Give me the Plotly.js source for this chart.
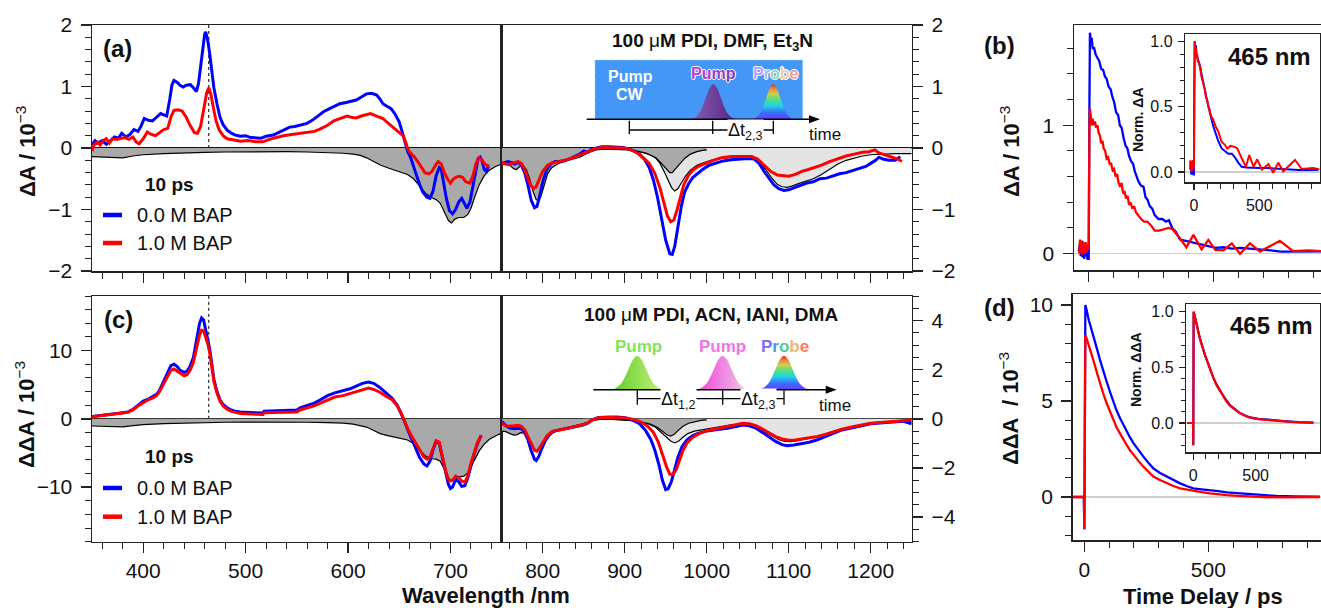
<!DOCTYPE html>
<html><head><meta charset="utf-8">
<script src="https://cdn.plot.ly/plotly-3.0.1.min.js"></script>
<style>html,body{margin:0;padding:0;background:#fff;}#chart{width:1321px;height:608px;}</style>
</head><body><div id="chart"></div>
<script>
// ---------------- DATA ----------------
// Panel (a), 350-750 nm, ΔA / 1e-3
const aLeftBlue = [[350,0.05],[353,0.12],[356,0.08],[360,0.12],[364,0.06],[368,0.12],[372,0.18],[376,0.16],[379,0.24],[383,0.18],[387,0.22],[391,0.3],[395,0.27],[398,0.36],[401,0.48],[405,0.45],[409,0.44],[413,0.5],[417,0.56],[420,0.54],[423,0.52],[426,0.8],[428,1.02],[430,1.1],[433,1.07],[436,1.02],[439,0.99],[442,1.02],[446,1.03],[449,0.98],[452,0.92],[454,1.05],[456,1.35],[458,1.6],[460,1.85],[461,1.89],[463,1.75],[465,1.52],[467,1.25],[469,0.98],[472,0.72],[475,0.5],[478,0.38],[482,0.29],[486,0.24],[490,0.21],[495,0.19],[500,0.2],[505,0.17],[510,0.17],[515,0.16],[520,0.19],[527,0.21],[532,0.25],[538,0.3],[543,0.34],[548,0.35],[553,0.37],[560,0.4],[565,0.45],[570,0.52],[576,0.59],[582,0.64],[587,0.68],[592,0.72],[598,0.74],[603,0.76],[608,0.78],[613,0.83],[618,0.88],[623,0.89],[628,0.86],[631,0.8],[634,0.72],[638,0.68],[642,0.64],[646,0.55],[650,0.42],[653,0.25],[656,0.05],[658,-0.05],[661,-0.15],[664,-0.3],[667,-0.48],[670,-0.6],[673,-0.72],[677,-0.8],[680,-0.82],[683,-0.7],[686,-0.45],[689,-0.32],[691,-0.35],[693,-0.55],[696,-0.82],[699,-1.02],[702,-1.07],[705,-1.0],[708,-0.88],[711,-0.82],[713,-0.88],[716,-0.98],[719,-0.88],[722,-0.6],[725,-0.35],[727,-0.17],[729,-0.15],[731,-0.22],[733,-0.35],[735,-0.38],[737,-0.3]];
const aLeftRed = [[350,-0.05],[352,0.05],[355,0.1],[358,0.05],[361,0.12],[364,0.15],[367,0.08],[370,0.15],[374,0.14],[378,0.15],[382,0.17],[386,0.14],[390,0.18],[393,0.1],[396,0.07],[400,0.15],[404,0.26],[408,0.22],[412,0.2],[416,0.25],[420,0.3],[424,0.32],[427,0.5],[430,0.61],[434,0.62],[438,0.6],[442,0.5],[446,0.36],[450,0.25],[453,0.24],[456,0.35],[459,0.62],[462,0.9],[464,0.98],[466,0.88],[468,0.7],[471,0.45],[474,0.3],[478,0.2],[482,0.15],[488,0.13],[495,0.11],[502,0.12],[510,0.1],[517,0.1],[523,0.14],[530,0.17],[537,0.2],[545,0.22],[553,0.24],[560,0.25],[567,0.27],[573,0.31],[580,0.37],[586,0.44],[592,0.48],[599,0.52],[603,0.5],[608,0.49],[613,0.52],[618,0.54],[622,0.56],[626,0.53],[630,0.51],[634,0.48],[638,0.42],[642,0.36],[646,0.3],[650,0.25],[654,0.2],[657,0.05],[659,-0.04],[662,-0.1],[665,-0.15],[668,-0.22],[671,-0.3],[675,-0.4],[679,-0.42],[682,-0.38],[686,-0.26],[688,-0.22],[691,-0.26],[694,-0.4],[697,-0.5],[700,-0.57],[703,-0.5],[706,-0.47],[709,-0.46],[712,-0.48],[715,-0.55],[719,-0.57],[722,-0.45],[725,-0.25],[728,-0.16],[731,-0.2],[734,-0.27],[738,-0.3]];
const aLeftGround = [[350,-0.14],[360,-0.15],[370,-0.155],[380,-0.16],[390,-0.13],[400,-0.11],[420,-0.09],[440,-0.075],[460,-0.07],[480,-0.065],[500,-0.06],[520,-0.06],[540,-0.06],[560,-0.065],[580,-0.075],[595,-0.085],[605,-0.1],[612,-0.12],[618,-0.16],[625,-0.22],[632,-0.28],[640,-0.33],[650,-0.39],[658,-0.43],[664,-0.5],[670,-0.62],[676,-0.74],[681,-0.8],[686,-0.84],[690,-0.9],[694,-1.05],[698,-1.18],[701,-1.22],[704,-1.16],[708,-1.13],[713,-1.13],[717,-1.08],[720,-0.98],[724,-0.78],[728,-0.6],[733,-0.45],[738,-0.36],[744,-0.3],[750,-0.26]];
// Panel (a), 750-1250 nm
const aRightBlue = [[750,-0.25],[754,-0.24],[758,-0.22],[762,-0.24],[766,-0.26],[770,-0.23],[774,-0.28],[778,-0.4],[782,-0.6],[786,-0.85],[790,-0.97],[793,-0.95],[796,-0.8],[800,-0.55],[805,-0.35],[810,-0.26],[815,-0.22],[820,-0.22],[826,-0.21],[832,-0.18],[838,-0.14],[845,-0.1],[850,-0.05],[855,-0.07],[860,-0.02],[865,0.0],[872,0.02],[880,0.02],[890,0.02],[898,0.01],[905,-0.02],[912,-0.05],[918,-0.1],[924,-0.18],[930,-0.32],[935,-0.52],[940,-0.8],[945,-1.15],[950,-1.5],[955,-1.72],[958,-1.73],[961,-1.6],[965,-1.3],[969,-0.95],[973,-0.72],[978,-0.58],[983,-0.48],[988,-0.42],[995,-0.35],[1003,-0.28],[1012,-0.24],[1020,-0.21],[1030,-0.19],[1040,-0.18],[1050,-0.17],[1058,-0.18],[1064,-0.25],[1070,-0.38],[1076,-0.5],[1082,-0.6],[1088,-0.66],[1094,-0.69],[1100,-0.68],[1108,-0.64],[1115,-0.6],[1122,-0.57],[1130,-0.55],[1138,-0.5],[1146,-0.49],[1154,-0.45],[1162,-0.42],[1170,-0.4],[1178,-0.37],[1186,-0.34],[1194,-0.3],[1200,-0.25],[1206,-0.2],[1210,-0.15],[1215,-0.18],[1222,-0.2],[1230,-0.2],[1236,-0.14]];
const aRightRed = [[750,-0.24],[754,-0.26],[758,-0.27],[762,-0.25],[766,-0.24],[770,-0.22],[774,-0.25],[778,-0.35],[782,-0.5],[786,-0.62],[789,-0.66],[792,-0.63],[796,-0.5],[800,-0.38],[806,-0.28],[812,-0.24],[820,-0.22],[830,-0.19],[840,-0.14],[848,-0.1],[856,-0.05],[864,-0.01],[872,0.01],[882,0.01],[892,0.01],[900,0.0],[908,-0.03],[915,-0.08],[922,-0.15],[930,-0.25],[937,-0.42],[943,-0.65],[948,-0.9],[952,-1.1],[956,-1.2],[960,-1.17],[964,-1.0],[968,-0.8],[972,-0.6],[978,-0.44],[984,-0.35],[990,-0.3],[998,-0.25],[1008,-0.2],[1018,-0.16],[1030,-0.14],[1042,-0.14],[1055,-0.14],[1062,-0.18],[1070,-0.28],[1078,-0.38],[1086,-0.44],[1094,-0.45],[1100,-0.46],[1108,-0.43],[1116,-0.38],[1124,-0.35],[1132,-0.32],[1140,-0.28],[1150,-0.22],[1160,-0.17],[1170,-0.13],[1180,-0.1],[1190,-0.07],[1198,-0.06],[1205,-0.03],[1210,-0.08],[1218,-0.12],[1226,-0.15],[1233,-0.18],[1238,-0.22]];
const aRightGroundA = [[750,-0.26],[755,-0.25],[760,-0.28],[765,-0.34],[768,-0.35],[772,-0.3],[776,-0.28],[780,-0.35],[784,-0.5],[788,-0.7],[792,-0.84],[795,-0.86],[798,-0.78],[802,-0.6],[806,-0.42],[811,-0.32],[818,-0.26],[826,-0.22],[835,-0.19],[845,-0.15],[855,-0.08],[865,-0.03],[875,-0.02],[890,-0.02],[905,-0.03],[915,-0.05],[925,-0.08],[932,-0.12],[938,-0.16],[944,-0.24],[950,-0.33],[955,-0.4],[958,-0.4],[962,-0.34],[967,-0.25],[973,-0.17],[980,-0.1],[988,-0.06],[995,-0.04],[1000,-0.03]];
const aRightGroundB = [[850,-0.02],[860,-0.02],[870,-0.01],[885,-0.01],[900,-0.02],[912,-0.04],[922,-0.07],[930,-0.1],[937,-0.15],[943,-0.25],[948,-0.38],[953,-0.52],[957,-0.64],[961,-0.7],[965,-0.66],[969,-0.57],[974,-0.46],[980,-0.36],[988,-0.28],[996,-0.24],[1005,-0.2],[1015,-0.17],[1030,-0.15],[1045,-0.14],[1056,-0.15],[1064,-0.22],[1072,-0.35],[1080,-0.5],[1086,-0.59],[1092,-0.63],[1098,-0.64],[1104,-0.62],[1112,-0.58],[1120,-0.54],[1130,-0.5],[1140,-0.43],[1150,-0.34],[1160,-0.26],[1170,-0.2],[1180,-0.16],[1190,-0.13],[1200,-0.11],[1215,-0.1],[1230,-0.09],[1250,-0.09]];
// Panel (c), 350-750 nm, ΔΔA / 1e-3 (left scale)
const cLeftBlue = [[350,0.35],[360,0.5],[370,0.7],[380,0.9],[385,1.0],[390,1.4],[395,2.0],[400,2.6],[405,2.9],[410,3.3],[413,3.6],[416,4.2],[420,5.5],[424,7.0],[427,7.8],[430,8.0],[433,7.7],[436,7.1],[440,6.8],[443,7.0],[446,7.8],[449,9.0],[452,11.5],[455,14.0],[457,14.8],[459,14.5],[461,13.0],[463,11.8],[465,10.2],[467,8.0],[469,5.8],[472,4.0],[475,2.8],[478,2.1],[482,1.6],[486,1.3],[490,1.1],[495,1.0],[505,0.9],[517,0.85],[518,1.1],[530,1.2],[550,1.3],[553,1.6],[560,1.9],[567,2.3],[573,2.8],[580,3.4],[587,3.8],[595,4.1],[602,4.4],[608,4.8],[614,5.2],[620,5.4],[625,5.2],[631,4.6],[637,3.8],[643,3.0],[648,2.0],[652,0.8],[655,-0.3],[658,-1.5],[662,-2.8],[666,-4.3],[670,-5.7],[674,-6.6],[677,-6.9],[680,-6.2],[683,-4.5],[686,-3.3],[689,-3.6],[692,-5.6],[695,-8.0],[698,-9.6],[700,-10.2],[702,-10.0],[705,-8.9],[708,-9.2],[711,-9.9],[714,-9.8],[717,-8.6],[720,-6.8],[723,-5.2],[726,-3.8],[730,-2.4]];
const cLeftRed = [[350,0.3],[360,0.45],[370,0.65],[380,0.85],[385,0.95],[390,1.3],[395,1.9],[400,2.4],[405,2.8],[410,3.1],[413,3.4],[416,4.0],[420,5.1],[424,6.4],[427,7.1],[430,7.3],[433,7.0],[436,6.6],[440,6.3],[443,6.5],[446,7.2],[449,8.3],[452,10.3],[455,12.3],[457,13.0],[459,12.9],[461,11.9],[463,11.0],[465,9.6],[467,7.6],[469,5.5],[472,3.8],[475,2.6],[478,1.9],[482,1.4],[486,1.1],[490,0.95],[495,0.8],[505,0.7],[517,0.65],[518,0.9],[530,0.95],[550,1.0],[553,1.3],[560,1.6],[567,1.9],[573,2.3],[580,2.8],[587,3.2],[595,3.4],[602,3.7],[608,4.0],[614,4.3],[620,4.5],[625,4.3],[631,3.9],[637,3.3],[643,2.8],[648,1.9],[652,0.8],[655,-0.3],[658,-1.4],[662,-2.5],[666,-3.6],[670,-4.7],[674,-5.6],[677,-5.9],[680,-5.6],[683,-4.3],[686,-3.2],[689,-3.4],[692,-5.3],[695,-7.5],[698,-8.9],[700,-9.1],[702,-9.0],[705,-8.4],[708,-8.6],[711,-9.1],[714,-9.3],[717,-8.3],[720,-6.5],[723,-4.9],[726,-3.6],[730,-2.4]];
const cLeftGround = [[350,-1.05],[360,-1.1],[370,-1.15],[380,-1.17],[390,-1.0],[400,-0.85],[420,-0.7],[440,-0.6],[460,-0.55],[480,-0.5],[500,-0.48],[520,-0.47],[540,-0.47],[560,-0.5],[580,-0.55],[595,-0.62],[605,-0.78],[612,-0.95],[618,-1.2],[625,-1.7],[632,-2.2],[640,-2.5],[650,-2.8],[658,-3.1],[664,-3.6],[670,-4.6],[676,-5.5],[681,-5.85],[686,-5.9],[690,-6.2],[694,-7.3],[698,-8.6],[701,-9.1],[704,-8.9],[708,-8.5],[713,-8.4],[717,-7.9],[720,-7.0],[724,-5.8],[728,-4.7],[733,-3.7],[738,-3.0],[744,-2.5],[750,-2.05]];
// Panel (c), 750-1250 nm (right scale)
const cRightBlue = [[750,-0.1],[753,-0.22],[756,-0.3],[760,-0.37],[765,-0.4],[770,-0.38],[774,-0.4],[778,-0.55],[782,-0.85],[786,-1.3],[790,-1.65],[792,-1.7],[795,-1.55],[799,-1.2],[803,-0.9],[808,-0.65],[813,-0.5],[820,-0.45],[830,-0.38],[840,-0.32],[848,-0.26],[855,-0.18],[860,-0.05],[868,0.06],[878,0.08],[890,0.08],[900,0.05],[910,-0.05],[918,-0.2],[925,-0.45],[932,-0.85],[937,-1.3],[942,-1.9],[946,-2.5],[950,-2.88],[953,-2.85],[957,-2.55],[961,-2.05],[965,-1.55],[970,-1.12],[976,-0.85],[983,-0.68],[991,-0.57],[1000,-0.5],[1012,-0.45],[1025,-0.38],[1037,-0.3],[1044,-0.25],[1052,-0.28],[1060,-0.38],[1068,-0.55],[1076,-0.75],[1084,-0.92],[1092,-1.05],[1098,-1.09],[1106,-1.06],[1115,-1.0],[1125,-0.95],[1135,-0.85],[1145,-0.73],[1155,-0.58],[1165,-0.45],[1178,-0.35],[1190,-0.25],[1200,-0.2],[1215,-0.16],[1230,-0.12],[1240,-0.1],[1250,-0.2]];
const cRightRed = [[750,-0.15],[753,-0.25],[756,-0.3],[760,-0.3],[765,-0.28],[770,-0.26],[774,-0.3],[778,-0.45],[782,-0.7],[786,-1.0],[790,-1.28],[793,-1.32],[796,-1.2],[800,-0.95],[805,-0.7],[810,-0.55],[816,-0.48],[825,-0.42],[835,-0.35],[845,-0.28],[853,-0.2],[860,-0.05],[868,0.05],[880,0.07],[892,0.07],[902,0.04],[912,-0.03],[920,-0.13],[928,-0.3],[935,-0.55],[941,-0.95],[946,-1.45],[951,-1.95],[955,-2.25],[959,-2.25],[963,-2.05],[967,-1.7],[971,-1.3],[976,-0.98],[983,-0.75],[991,-0.6],[1000,-0.48],[1012,-0.4],[1025,-0.3],[1037,-0.22],[1044,-0.18],[1052,-0.2],[1060,-0.28],[1068,-0.42],[1076,-0.58],[1084,-0.72],[1092,-0.82],[1100,-0.87],[1108,-0.86],[1116,-0.82],[1125,-0.78],[1135,-0.72],[1145,-0.63],[1155,-0.52],[1165,-0.42],[1178,-0.32],[1190,-0.24],[1200,-0.18],[1215,-0.14],[1230,-0.1],[1250,-0.05]];
const cRightGroundA = [[750,-0.5],[755,-0.52],[760,-0.6],[765,-0.66],[769,-0.64],[773,-0.56],[777,-0.58],[781,-0.75],[785,-0.98],[789,-1.2],[793,-1.3],[796,-1.25],[800,-1.05],[805,-0.8],[811,-0.6],[818,-0.48],[826,-0.4],[835,-0.33],[845,-0.25],[855,-0.15],[862,-0.05],[870,-0.02],[885,-0.02],[900,-0.03],[915,-0.08],[925,-0.15],[932,-0.22],[940,-0.35],[947,-0.52],[952,-0.66],[956,-0.7],[960,-0.64],[965,-0.48],[971,-0.3],[978,-0.18],[986,-0.1],[993,-0.06],[1000,-0.04]];
const cRightGroundB = [[850,-0.05],[860,-0.03],[870,-0.02],[885,-0.02],[900,-0.04],[912,-0.08],[922,-0.14],[930,-0.22],[938,-0.35],[945,-0.55],[951,-0.75],[956,-0.9],[961,-0.98],[966,-0.9],[971,-0.75],[977,-0.6],[985,-0.5],[995,-0.44],[1005,-0.38],[1018,-0.3],[1030,-0.24],[1042,-0.21],[1052,-0.24],[1062,-0.35],[1072,-0.55],[1080,-0.72],[1088,-0.85],[1095,-0.92],[1102,-0.93],[1110,-0.9],[1120,-0.84],[1130,-0.76],[1140,-0.66],[1150,-0.55],[1160,-0.45],[1172,-0.36],[1185,-0.27],[1200,-0.19],[1215,-0.14],[1230,-0.11],[1250,-0.1]];
// Panel (b) kinetics at 465 nm, ΔA / 1e-3 vs time / ps
const bBlue = [[-40,0.02],[-35,0.08],[-32,-0.02],[-28,0.1],[-25,-0.03],[-22,0.09],[-18,-0.04],[-15,0.05],[-12,-0.02],[-8,0.03],[-5,-0.04],[-2,-0.04],[0,-0.04],[3,1.2],[5,1.72],[8,1.66],[12,1.68],[16,1.6],[22,1.6],[28,1.55],[35,1.52],[42,1.5],[50,1.44],[58,1.43],[65,1.38],[72,1.36],[80,1.3],[88,1.28],[95,1.22],[102,1.18],[110,1.1],[118,1.08],[125,1.0],[132,0.98],[140,0.9],[148,0.84],[155,0.82],[162,0.76],[170,0.72],[178,0.7],[185,0.64],[192,0.6],[200,0.56],[210,0.53],[220,0.52],[228,0.44],[236,0.42],[245,0.37],[255,0.35],[265,0.3],[280,0.27],[295,0.27],[310,0.25],[322,0.26],[335,0.2],[350,0.17],[366,0.11],[390,0.1],[420,0.085],[450,0.07],[480,0.055],[510,0.045],[540,0.05],[575,0.04],[610,0.045],[650,0.04],[690,0.03],[730,0.025],[770,0.016],[820,0.015],[870,0.018],[932,0.018]];
const bRed = [[-38,0.0],[-35,0.11],[-32,0.03],[-30,0.09],[-27,-0.01],[-25,0.1],[-22,0.02],[-18,0.08],[-15,0.0],[-12,0.09],[-8,0.01],[-5,0.07],[-2,0.03],[0,0.05],[3,1.0],[5,1.13],[8,1.08],[12,1.0],[16,1.05],[20,1.0],[25,1.03],[30,0.98],[35,1.0],[40,0.94],[45,0.92],[50,0.86],[55,0.88],[60,0.82],[66,0.8],[72,0.74],[78,0.75],[84,0.7],[90,0.7],[96,0.65],[102,0.66],[108,0.6],[114,0.62],[120,0.55],[126,0.52],[132,0.55],[138,0.47],[144,0.48],[150,0.43],[156,0.45],[162,0.38],[168,0.4],[175,0.35],[182,0.37],[190,0.32],[198,0.3],[210,0.27],[222,0.25],[235,0.25],[250,0.22],[265,0.18],[283,0.18],[300,0.19],[320,0.2],[336,0.19],[366,0.12],[392,0.05],[420,0.146],[453,0.034],[480,0.107],[508,0.03],[541,0.026],[574,0.081],[607,0.0],[647,0.08],[687,0.016],[767,0.1],[820,0.02],[880,0.025],[932,0.02]];
// Panel (b) inset, normalized
const bInsetBlue = [[-30,0.02],[-25,0.05],[-20,-0.02],[-15,0.04],[-10,-0.02],[-5,0.03],[-2,-0.02],[0,-0.02],[3,0.6],[6,1.0],[10,0.95],[15,0.97],[20,0.9],[30,0.86],[40,0.83],[50,0.8],[60,0.74],[70,0.7],[80,0.64],[90,0.6],[100,0.55],[110,0.5],[125,0.44],[148,0.35],[165,0.3],[185,0.24],[212,0.18],[240,0.16],[263,0.14],[290,0.14],[315,0.11],[340,0.07],[365,0.04],[400,0.035],[450,0.03],[500,0.03],[560,0.03],[620,0.025],[680,0.025],[740,0.018],[800,0.015],[860,0.015],[950,0.015]];
const bInsetRed = [[-30,0.05],[-27,0.09],[-24,0.02],[-21,0.08],[-18,0.0],[-15,0.07],[-12,0.03],[-9,0.09],[-6,0.02],[-3,0.06],[0,0.03],[3,0.6],[6,1.0],[10,0.92],[15,0.95],[20,0.88],[25,0.9],[30,0.84],[37,0.85],[45,0.79],[52,0.78],[60,0.72],[68,0.69],[75,0.66],[84,0.63],[92,0.57],[102,0.55],[110,0.5],[120,0.48],[130,0.43],[148,0.4],[165,0.35],[186,0.31],[212,0.23],[235,0.21],[255,0.18],[280,0.2],[314,0.19],[332,0.18],[365,0.105],[398,0.04],[423,0.13],[456,0.04],[484,0.097],[520,0.018],[569,0.061],[607,-0.005],[645,0.071],[683,0.005],[773,0.092],[824,0.023],[913,0.03],[960,0.02]];
// Panel (d) kinetics, ΔΔA / 1e-3
const dBlue = [[-45,0.0],[-20,0.0],[-2,0.0],[0,-1.68],[2,5.0],[4,10.0],[8,9.8],[12,9.5],[18,9.2],[25,8.9],[36,8.44],[50,7.75],[63,7.14],[76,6.55],[90,6.0],[104,5.45],[117,4.97],[130,4.5],[144,4.1],[157,3.75],[171,3.4],[184,3.1],[198,2.8],[218,2.42],[238,2.1],[258,1.78],[278,1.49],[305,1.25],[332,1.06],[359,0.88],[386,0.71],[412,0.57],[439,0.45],[473,0.4],[507,0.36],[540,0.3],[574,0.24],[620,0.2],[668,0.16],[700,0.1],[720,0.08],[775,0.05],[850,0.03],[950,0.02]];
const dRed = [[-45,0.0],[-20,0.0],[-2,0.0],[0,-1.68],[2,4.0],[4,8.44],[8,8.3],[16,8.0],[25,7.6],[36,7.14],[50,6.5],[63,5.92],[76,5.4],[90,4.88],[104,4.42],[117,4.0],[130,3.62],[144,3.3],[157,2.98],[171,2.7],[184,2.43],[198,2.19],[218,1.88],[238,1.58],[258,1.3],[278,1.06],[305,0.88],[332,0.71],[359,0.57],[386,0.45],[412,0.38],[439,0.33],[473,0.25],[507,0.19],[540,0.14],[574,0.1],[620,0.06],[668,0.02],[720,0.0],[775,-0.02],[850,-0.02],[950,-0.01]];
// Panel (d) inset, normalized
const dInsetBlue = [[-50,0.0],[-2,0.0],[0,-0.2],[3,1.0],[10,0.97],[27,0.88],[53,0.76],[94,0.61],[134,0.48],[160,0.41],[187,0.345],[214,0.29],[241,0.245],[268,0.2],[294,0.16],[334,0.125],[374,0.09],[415,0.068],[455,0.05],[520,0.038],[588,0.03],[668,0.022],[749,0.016],[850,0.008],[963,0.003]];
const dInsetRed = [[-50,0.0],[-2,0.0],[0,-0.2],[3,1.0],[10,0.97],[27,0.88],[53,0.76],[94,0.61],[134,0.48],[160,0.41],[187,0.34],[214,0.29],[241,0.24],[268,0.19],[294,0.155],[334,0.12],[374,0.087],[415,0.065],[455,0.048],[520,0.035],[588,0.027],[668,0.018],[749,0.012],[850,0.006],[963,0.003]];
// Tick labels / text
const legendLabels = ['0.0 M BAP','1.0 M BAP'];
const delayLabel = '10 ps';
const probeWl = 464;
// Schematic pulse profile (unit-height pulse, offsets in pulse widths)
const pulseOffsets = [-3.2,-3,-2.5,-2,-1.5,-1,-0.5,0,0.5,1,1.5,2,2.5,3,3.2];
const pulseProfile = [0,0.011,0.044,0.135,0.325,0.607,0.882,1,0.882,0.607,0.325,0.135,0.044,0.011,0];

// ---------------- BUILD ----------------
const FONT = 'Liberation Sans, Arial, Helvetica, sans-serif';
const BLUE = '#0000ff', RED = '#ff0000';
const xs = a => a.map(p => p[0]);
const ys = a => a.map(p => p[1]);
const PX = x => x / 1321;
const PY = y => 1 - y / 608;

function line(arr, xa, ya, color, width, extra) {
  return Object.assign({type:'scatter', mode:'lines', x:xs(arr), y:ys(arr), xaxis:xa, yaxis:ya,
    line:{color:color, width:width}, hoverinfo:'skip'}, extra || {});
}
function ground(arr, xa, ya, fillcolor) {
  return line(arr, xa, ya, '#000', 1.2, {fill:'tozeroy', fillcolor:fillcolor});
}
function pulse(xa, ya, center, sigma, base, height, gradient) {
  return {type:'scatter', mode:'lines', xaxis:xa, yaxis:ya, hoverinfo:'skip',
    x: pulseOffsets.map(o => center + o*sigma),
    y: pulseProfile.map(p => base + p*height),
    line:{width:0, shape:'spline', color:'rgba(0,0,0,0)'}, fill:'toself', fillgradient:gradient};
}
const rainbow = (base, top) => ({type:'vertical', start:base, stop:top,
  colorscale:[[0,'#6a3cff'],[0.18,'#3a6cff'],[0.38,'#22d0e8'],[0.55,'#4ee08a'],[0.72,'#c8d050'],[0.86,'#f08a3a'],[1,'#e8281e']]});

const DARK = '#a9a9a9', LIGHT = '#e4e4e4';
const traces = [
  ground(aLeftGround,'x','y',DARK),
  line(aLeftBlue,'x','y',BLUE,3), line(aLeftRed,'x','y',RED,3),
  ground(aRightGroundB,'x2','y2',LIGHT), ground(aRightGroundA,'x2','y2',DARK),
  line(aRightBlue,'x2','y2',BLUE,3), line(aRightRed,'x2','y2',RED,3),
  ground(cLeftGround,'x3','y3',DARK),
  line(cLeftBlue,'x3','y3',BLUE,3), line(cLeftRed,'x3','y3',RED,3),
  ground(cRightGroundB,'x4','y4',LIGHT), ground(cRightGroundA,'x4','y4',DARK),
  line(cRightBlue,'x4','y4',BLUE,3), line(cRightRed,'x4','y4',RED,3),
  line(bBlue,'x5','y5',BLUE,2.3), line(bRed,'x5','y5',RED,2.3),
  line(bInsetBlue,'x6','y6',BLUE,2), line(bInsetRed,'x6','y6',RED,2),
  line(dBlue,'x7','y7',BLUE,2.3), line(dRed,'x7','y7',RED,2.3),
  line(dInsetBlue,'x8','y8',BLUE,2.2), line(dInsetRed,'x8','y8',RED,2.2),
  // schematic (a)
  pulse('x9','y9',211.6,7.5,151.7,35.3,{type:'horizontal',colorscale:[[0,'#8466b4'],[1,'#581e82']]}),
  pulse('x9','y9',271.6,7.0,151.7,35.3,rainbow(151.7,187)),
  // schematic (c)
  pulse('x10','y10',135.6,8.8,152,34,{type:'horizontal',colorscale:[[0,'#58c828'],[1,'#cdf47a']]}),
  pulse('x10','y10',221,8.8,152,34,{type:'horizontal',colorscale:[[0,'#f03ad6'],[1,'#eed2e8']]}),
  pulse('x10','y10',282.3,8.5,152,34,rainbow(152,186))
];

const tickFont = {family:FONT, size:21, color:'#111'};
const insetFont = {family:FONT, size:16, color:'#111'};
function ax(extra, minor) {
  return Object.assign({showline:true, linecolor:'#222', linewidth:1.5, mirror:true, showgrid:false, zeroline:false,
    ticks:'outside', tickcolor:'#222', tickwidth:1.3, ticklen:10, tickfont:tickFont, ticklabelstandoff:4,
    tickmode:'linear', tick0:0,
    minor:Object.assign({ticks:'outside', ticklen:6, tickwidth:1, tickcolor:'#222', showgrid:false, tick0:0}, minor)}, extra);
}
const zeroBlack = {zeroline:true, zerolinecolor:'#111', zerolinewidth:1.5};
const zeroGray = {zeroline:true, zerolinecolor:'#cfcfcf', zerolinewidth:1.5};
const aY = [PY(271), PY(25)], cY = [PY(541.7), PY(296)];
const xL = [PX(92), PX(501.7)], xR = [PX(501.7), PX(911.7)];

const layout = {
  width:1321, height:608, margin:{l:0,r:0,t:0,b:0}, showlegend:false,
  paper_bgcolor:'#fff', plot_bgcolor:'rgba(0,0,0,0)', font:{family:FONT, color:'#111'},
  xaxis: ax({domain:xL, range:[350,750], anchor:'y', dtick:100, showticklabels:false}, {dtick:20}),
  yaxis: ax(Object.assign({domain:aY, range:[-2,2], anchor:'x', dtick:1}, zeroBlack), {dtick:0.2}),
  xaxis2: ax({domain:xR, range:[750,1250], anchor:'y2', dtick:100, showticklabels:false}, {dtick:20}),
  yaxis2: ax(Object.assign({domain:aY, range:[-2,2], anchor:'x2', side:'right', dtick:1}, zeroBlack), {dtick:0.2}),
  xaxis3: ax({domain:xL, range:[350,750], anchor:'y3', dtick:100, ticklabelstandoff:0}, {dtick:20}),
  yaxis3: ax(Object.assign({domain:cY, range:[-18,18], anchor:'x3', dtick:10}, zeroBlack), {dtick:2}),
  xaxis4: ax({domain:xR, range:[750,1250], anchor:'y4', dtick:100, ticklabelstandoff:0}, {dtick:20}),
  yaxis4: ax(Object.assign({domain:cY, range:[-5,5], anchor:'x4', side:'right', dtick:2}, zeroBlack), {dtick:0.5}),
  xaxis5: ax({domain:[PX(1074),1], range:[-59,932], anchor:'y5', dtick:500, showticklabels:false}, {dtick:100}),
  yaxis5: ax(Object.assign({domain:[PY(270),PY(25)], range:[-0.127,1.78], anchor:'x5', dtick:1}, zeroGray), {dtick:0.2}),
  xaxis6: ax({domain:[PX(1185.3),PX(1320)], range:[-66,964], anchor:'y6', tickmode:'array', tickvals:[0,500], ticktext:['0','500'], tickfont:insetFont, ticklen:6, ticklabelstandoff:2},
     {tickmode:'array', tickvals:[100,200,300,400,600,700,800,900], ticklen:5}),
  yaxis6: ax(Object.assign({domain:[PY(182.3),PY(34.3)], range:[-0.079,1.054], anchor:'x6', dtick:0.5, tickformat:'.1f', tickfont:insetFont, ticklen:6, ticklabelstandoff:2}, zeroGray), {dtick:0.1, ticklen:4}),
  xaxis7: ax({domain:[PX(1072.7),1], range:[-47,954], anchor:'y7', dtick:500, ticklabelstandoff:0}, {dtick:100}),
  yaxis7: ax(Object.assign({domain:[PY(540),PY(294)], range:[-2.24,10.57], anchor:'x7', dtick:5}, zeroGray), {dtick:1}),
  xaxis8: ax({domain:[PX(1186.3),PX(1320)], range:[-56,1016], anchor:'y8', tickmode:'array', tickvals:[0,500], ticktext:['0','500'], tickfont:insetFont, ticklen:6, ticklabelstandoff:2},
     {tickmode:'array', tickvals:[100,200,300,400,600,700,800,900], ticklen:5}),
  yaxis8: ax(Object.assign({domain:[PY(452.3),PY(304)], range:[-0.263,1.069], anchor:'x8', dtick:0.5, tickformat:'.1f', tickfont:insetFont, ticklen:6, ticklabelstandoff:2}, zeroGray), {dtick:0.1, ticklen:4}),
  xaxis9: {domain:xR, range:[0,410], anchor:'y9', visible:false, fixedrange:true},
  yaxis9: {domain:aY, range:[0,246], anchor:'x9', visible:false, fixedrange:true},
  xaxis10: {domain:xR, range:[0,410], anchor:'y10', visible:false, fixedrange:true},
  yaxis10: {domain:cY, range:[0,245.7], anchor:'x10', visible:false, fixedrange:true},
  shapes:[], annotations:[]
};

const S = layout.shapes, A = layout.annotations;
// probe wavelength markers
S.push({type:'line', xref:'x', yref:'y', x0:probeWl, x1:probeWl, y0:0, y1:2, line:{color:'#000', width:1, dash:'dot'}, layer:'below'});
S.push({type:'line', xref:'x3', yref:'y3', x0:probeWl, x1:probeWl, y0:0, y1:18, line:{color:'#000', width:1, dash:'dot'}, layer:'below'});
// legend samples
[[215,243],[488,516.7]].forEach(pair => {
  S.push({type:'line', xref:'paper', yref:'paper', x0:PX(103), x1:PX(122), y0:PY(pair[0]), y1:PY(pair[0]), line:{color:BLUE, width:4.5}});
  S.push({type:'line', xref:'paper', yref:'paper', x0:PX(103), x1:PX(122), y0:PY(pair[1]), y1:PY(pair[1]), line:{color:RED, width:4.5}});
  A.push({xref:'paper', yref:'paper', x:PX(135), y:PY(pair[0]), text:legendLabels[0], showarrow:false, xanchor:'left', yanchor:'middle', font:{size:20}});
  A.push({xref:'paper', yref:'paper', x:PX(135), y:PY(pair[1]), text:legendLabels[1], showarrow:false, xanchor:'left', yanchor:'middle', font:{size:20}});
});
function pa(x, y, text, size, extra) {
  A.push(Object.assign({xref:'paper', yref:'paper', x:PX(x), y:PY(y), text:text, showarrow:false, xanchor:'center', yanchor:'middle', font:{size:size}}, extra || {}));
}
pa(169, 184.5, '<b>'+delayLabel+'</b>', 19);
pa(169, 456.7, '<b>'+delayLabel+'</b>', 19);
pa(117, 48, '<b>(a)</b>', 24); pa(118, 319, '<b>(c)</b>', 24);
pa(999, 45, '<b>(b)</b>', 24); pa(999, 307, '<b>(d)</b>', 24);
pa(26, 152, '<b>ΔA / 10</b><sup>−3</sup>', 22, {textangle:-90});
pa(25, 415, '<b>ΔΔA / 10</b><sup>−3</sup>', 22, {textangle:-90});
pa(1010, 152, '<b>ΔA / 10</b><sup>−3</sup>', 22, {textangle:-90});
pa(1009, 409, '<b>ΔΔA  / 10</b><sup>−3</sup>', 22, {textangle:-90});
pa(486, 595, '<b>Wavelength /nm</b>', 22);
pa(1202.5, 596, '<b>Time Delay / ps</b>', 22);
pa(1269.5, 56.5, '<b>465 nm</b>', 24);
pa(1271, 325, '<b>465 nm</b>', 24);
pa(1137.5, 119.5, '<b>Norm. ΔA</b>', 14, {textangle:-90});
pa(1136, 370, '<b>Norm. ΔΔA</b>', 14, {textangle:-90});

// schematic (a)
function da(xr, yr, x, y, text, size, extra) {
  A.push(Object.assign({xref:xr, yref:yr, x:x, y:y, text:text, showarrow:false, xanchor:'center', yanchor:'middle', font:{size:size}}, extra || {}));
}
S.push({type:'rect', xref:'x9', yref:'y9', x0:93.3, x1:301, y0:151.7, y1:211, fillcolor:'#4597f7', line:{width:0.8, color:'#8fd4ff', dash:'dot'}, layer:'below'});
[['x9','y9',85,318.3,151.7,141,137,150.3,[127.6,211,271.6]],['x10','y10',91.6,335,152,143,137,151.3,[135.6,221,282.3]]].forEach(d => {
  const [xr,yr,x0,tip,yAx,yBr,t0,t1,ticks] = d;
  S.push({type:'line', xref:xr, yref:yr, x0:x0, x1:tip-6, y0:yAx, y1:yAx, line:{color:'#000', width:1.5}});
  S.push({type:'path', xref:xr, yref:yr, path:`M ${tip-11},${yAx+4} L ${tip},${yAx} L ${tip-11},${yAx-4} Z`, fillcolor:'#000', line:{width:0}});
  S.push({type:'line', xref:xr, yref:yr, x0:ticks[0], x1:ticks[2], y0:yBr, y1:yBr, line:{color:'#000', width:1.3}});
  ticks.forEach(t => S.push({type:'line', xref:xr, yref:yr, x0:t, x1:t, y0:t0, y1:t1, line:{color:'#000', width:1.3}}));
});
const outline = '1px 0 0 #fff, -1px 0 0 #fff, 0 1px 0 #fff, 0 -1px 0 #fff';
da('x9','y9',210.8,229,'<b>100 </b>μ<b>M PDI, DMF, Et<sub>3</sub>N</b>',19);
da('x9','y9',128.3,195,'<b>Pump</b>',16,{font:{size:16,color:'#fff'}});
da('x9','y9',128.3,177,'<b>CW</b>',16,{font:{size:16,color:'#fff'}});
da('x9','y9',211.6,197.7,'<b><span style="color:#c03cd8">P</span><span style="color:#a83ccc">u</span><span style="color:#9440c0">m</span><span style="color:#8040b4">p</span></b>',16,{font:{size:16, shadow:outline}});
da('x9','y9',273.3,197.7,'<b><span style="color:#b4a4ff">P</span><span style="color:#a4bcf8">r</span><span style="color:#84dcc4">o</span><span style="color:#ecd0ac">b</span><span style="color:#f49c8c">e</span></b>',16,{font:{size:16, shadow:outline}});
da('x9','y9',244,140,'Δt<sub>2,3</sub>',18,{bgcolor:'#fff', borderpad:0});
da('x9','y9',323,137,'time',17);
// schematic (c)
da('x10','y10',209,227,'<b>100 </b>μ<b>M PDI, ACN, IANI, DMA</b>',19);
da('x10','y10',136.6,195,'<b>Pump</b>',17,{font:{size:17,color:'#86e25a'}});
da('x10','y10',220.8,195,'<b>Pump</b>',17,{font:{size:17,color:'#f274e2'}});
da('x10','y10',283,195,'<b><span style="color:#7c6cff">P</span><span style="color:#5a92f4">r</span><span style="color:#46cca8">o</span><span style="color:#f2b47a">b</span><span style="color:#ff7a56">e</span></b>',17);
da('x10','y10',177,141,'Δt<sub>1,2</sub>',18,{bgcolor:'#fff', borderpad:0});
da('x10','y10',256.5,141,'Δt<sub>2,3</sub>',18,{bgcolor:'#fff', borderpad:0});
da('x10','y10',333,136,'time',17);

Plotly.newPlot('chart', traces, layout, {staticPlot:true, displayModeBar:false});
</script>
</body></html>
